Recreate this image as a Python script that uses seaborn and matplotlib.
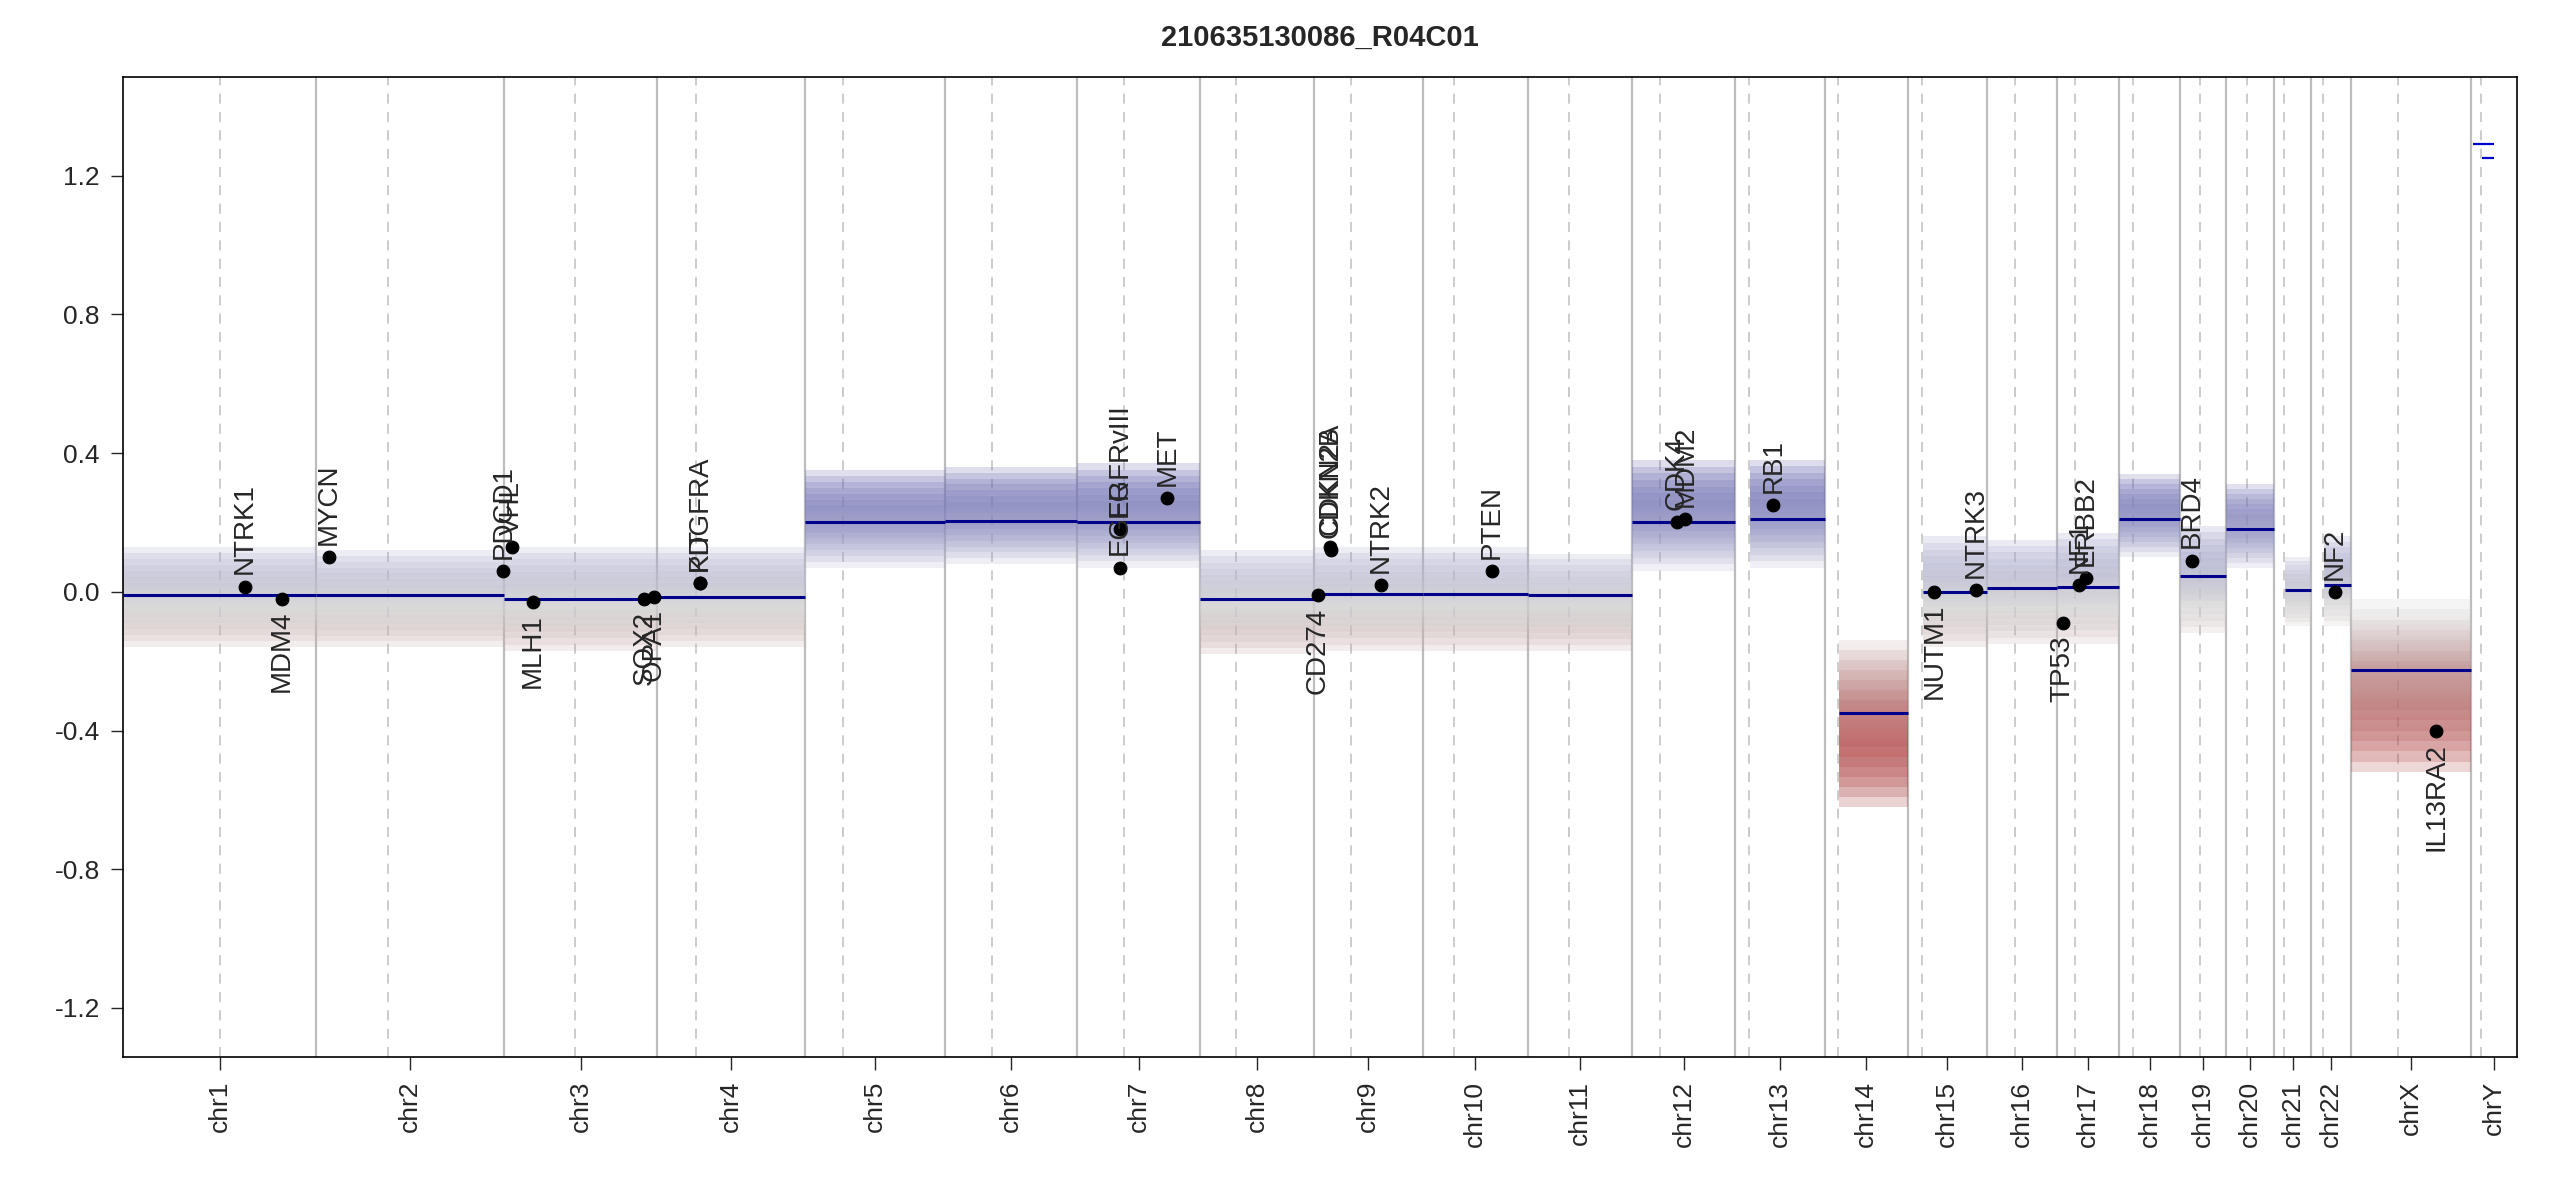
import numpy as np
import pandas as pd
import matplotlib
matplotlib.use('Agg')
import matplotlib.pyplot as plt
import seaborn as sns
from matplotlib.colors import LinearSegmentedColormap
from matplotlib.path import Path
from matplotlib.patches import PathPatch

TITLE = '210635130086_R04C01'

CHROMS = ['chr1', 'chr2', 'chr3', 'chr4', 'chr5', 'chr6', 'chr7', 'chr8', 'chr9', 'chr10', 'chr11', 'chr12',
          'chr13', 'chr14', 'chr15', 'chr16', 'chr17', 'chr18', 'chr19', 'chr20', 'chr21', 'chr22', 'chrX', 'chrY']
# hg19 lengths and centromeres, Mb
CHROM_LEN = [249.25, 243.2, 198.0, 191.15, 180.9, 171.1, 159.1, 146.4, 141.2, 135.5, 135.0, 133.9,
             115.2, 107.3, 102.5, 90.35, 81.2, 78.1, 59.1, 63.0, 48.1, 51.3, 155.3, 59.4]
CENTRO = [125.0, 93.3, 91.0, 50.4, 48.4, 61.0, 59.9, 45.6, 49.0, 40.2, 53.7, 35.8,
          17.9, 17.6, 19.0, 36.6, 24.0, 17.2, 26.5, 27.5, 13.2, 14.7, 60.6, 12.5]

# segment level per chromosome
SEG_VALUE = [-0.01, -0.01, -0.02, -0.015, 0.20, 0.205, 0.20, -0.02, -0.005, -0.005, -0.01, 0.20,
             0.21, -0.35, 0.0, 0.01, 0.015, 0.21, 0.045, 0.18, 0.005, 0.02, -0.225, None]
# rough spread of the bin cloud per chromosome (low, high)
CLOUD_LOW = [-0.16, -0.16, -0.17, -0.16, 0.07, 0.08, 0.07, -0.18, -0.17, -0.17, -0.17, 0.06,
             0.07, -0.62, -0.16, -0.15, -0.15, 0.10, -0.12, 0.07, -0.10, -0.10, -0.52, None]
CLOUD_HIGH = [0.13, 0.12, 0.13, 0.13, 0.35, 0.36, 0.37, 0.12, 0.13, 0.13, 0.11, 0.38,
              0.38, -0.14, 0.16, 0.15, 0.17, 0.34, 0.19, 0.31, 0.10, 0.16, -0.02, None]
CLOUD_START = [0, 0, 0, 0, 0, 0, 0, 0, 0, 0, 0, 0,
               19, 19, 20, 0, 0, 0, 0, 0, 14, 16, 0, 0]

# chrY segments
CHRY_SEG = [(2.0, 30.0, 1.29), (14.0, 30.0, 1.25)]

GENES = ['NTRK1', 'MDM4', 'MYCN', 'PDCD1', 'VHL', 'MLH1', 'SOX2', 'OPA1', 'KIT', 'PDGFRA',
         'EGFR', 'EGFRvIII', 'MET', 'CD274', 'CDKN2A', 'CDKN2B', 'NTRK2', 'PTEN', 'CDK4', 'MDM2',
         'RB1', 'NUTM1', 'NTRK3', 'TP53', 'NF1', 'ERBB2', 'BRD4', 'NF2', 'IL13RA2']
GENE_CHR = ['chr1', 'chr1', 'chr2', 'chr2', 'chr3', 'chr3', 'chr3', 'chr3', 'chr4', 'chr4',
            'chr7', 'chr7', 'chr7', 'chr9', 'chr9', 'chr9', 'chr9', 'chr10', 'chr12', 'chr12',
            'chr13', 'chr15', 'chr15', 'chr17', 'chr17', 'chr17', 'chr19', 'chr22', 'chrX']
GENE_POS = [156.8, 204.5, 16.0, 242.0, 10.2, 37.0, 181.4, 193.3, 55.5, 55.1,
            55.2, 55.3, 116.4, 5.5, 21.9, 22.0, 87.3, 89.6, 58.1, 69.2,
            48.9, 34.6, 88.5, 7.6, 29.5, 37.8, 15.3, 29.9, 110.4]
GENE_VAL = [0.015, -0.02, 0.10, 0.06, 0.13, -0.03, -0.02, -0.015, 0.025, 0.025,
            0.07, 0.18, 0.27, -0.01, 0.13, 0.12, 0.02, 0.06, 0.20, 0.21,
            0.25, 0.0, 0.005, -0.09, 0.02, 0.04, 0.09, 0.0, -0.40]
GENE_UP = [1, 0, 1, 1, 1, 0, 0, 0, 1, 1,
           1, 1, 1, 0, 1, 1, 1, 1, 1, 1,
           1, 0, 1, 0, 1, 1, 1, 1, 0]

offsets = np.concatenate([[0], np.cumsum(CHROM_LEN)[:-1]])
chr_off = dict(zip(CHROMS, offsets))
total = float(np.sum(CHROM_LEN))

genes = pd.DataFrame({'gene': GENES, 'chr': GENE_CHR, 'pos': GENE_POS, 'value': GENE_VAL, 'up': GENE_UP})
genes['x'] = [chr_off[c] + p for c, p in zip(genes['chr'], genes['pos'])]

sns.set_style('white')
plt.rcParams['font.family'] = ['Liberation Sans', 'DejaVu Sans']

fig = plt.figure(figsize=(25.5, 12), dpi=100)
ax = fig.add_axes([0.0484, 0.119, 0.9387, 0.817])
ax.set_xlim(0, total)
ax.set_ylim(-1.342, 1.485)

# chromosome boundaries and centromeres
for off, ln, cen in zip(offsets, CHROM_LEN, CENTRO):
    if off > 0:
        ax.axvline(off, color='#bdbdbd', lw=1.6, zorder=1)
    ax.axvline(off + cen, color='#c4c4c4', lw=1.2, ls=(0, (6, 5)), zorder=1)

cmap = LinearSegmentedColormap.from_list('cn', [
    (0.0, '#8b1010'), (0.2, '#b04040'), (0.42, '#bb8a8a'), (0.57, '#d2d2d2'),
    (0.7, '#a8a8cc'), (0.88, '#6868b0'), (1.0, '#4848a0')])
grad = np.linspace(-0.7, 0.45, 300).reshape(-1, 1)


def cloud_layer(shrink, alpha):
    # one band of the bin cloud, narrowed by 'shrink' of its spread on each side
    verts, codes = [], []
    for off, lo, hi, st, ln in zip(offsets, CLOUD_LOW, CLOUD_HIGH, CLOUD_START, CHROM_LEN):
        if lo is None:
            continue
        d = (hi - lo) * shrink
        x0, x1 = off + st, off + ln
        verts += [(x0, lo + d), (x1, lo + d), (x1, hi - d), (x0, hi - d), (x0, lo + d)]
        codes += [Path.MOVETO, Path.LINETO, Path.LINETO, Path.LINETO, Path.CLOSEPOLY]
    clip = PathPatch(Path(verts, codes), transform=ax.transData, fc='none', ec='none')
    ax.add_patch(clip)
    img = ax.imshow(grad, extent=[0, total, -0.7, 0.45], origin='lower', aspect='auto',
                    cmap=cmap, vmin=-0.7, vmax=0.45, alpha=alpha, zorder=2)
    img.set_clip_path(clip)


for s in [0.0, 0.06, 0.12, 0.18, 0.24, 0.30, 0.36]:
    cloud_layer(s, 0.2)

# segments
for off, ln, st, v in zip(offsets, CHROM_LEN, CLOUD_START, SEG_VALUE):
    if v is None:
        continue
    ax.hlines(v, off + st, off + ln, color='#00008b', lw=2.2, zorder=4)
for a, b, v in CHRY_SEG:
    ax.hlines(v, chr_off['chrY'] + a, chr_off['chrY'] + b, color='#0000cd', lw=1.6, zorder=4)

# genes
sns.scatterplot(data=genes, x='x', y='value', color='black', s=85, edgecolor='black', zorder=5, ax=ax, legend=False)
for _, r in genes.iterrows():
    if r['up']:
        ax.text(r['x'], r['value'] + 0.035, r['gene'], rotation=90, ha='center', va='bottom', fontsize=20, zorder=6)
    else:
        ax.text(r['x'], r['value'] - 0.035, r['gene'], rotation=90, ha='center', va='top', fontsize=20, zorder=6)

ax.set_yticks([-1.2, -0.8, -0.4, 0.0, 0.4, 0.8, 1.2])
ax.set_yticklabels([f'{t:.1f}' for t in [-1.2, -0.8, -0.4, 0.0, 0.4, 0.8, 1.2]], fontsize=19)
ax.set_xticks(offsets + np.array(CHROM_LEN) / 2)
ax.set_xticklabels(CHROMS, rotation=90, fontsize=19)
ax.tick_params(axis='both', length=9, width=1, direction='out', bottom=True, left=True, pad=8)
for sp in ax.spines.values():
    sp.set_color('black')
    sp.set_linewidth(1.2)
ax.set_xlabel('')
ax.set_ylabel('')
ax.set_title(TITLE, fontsize=21, fontweight='bold', pad=22)

fig.savefig('out.png', dpi=100)
